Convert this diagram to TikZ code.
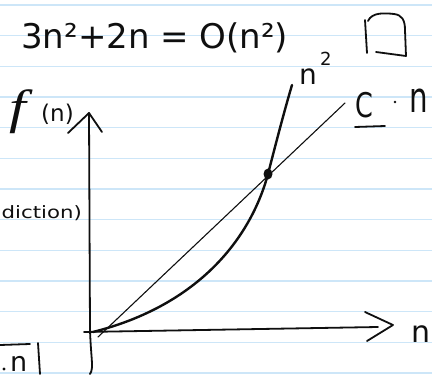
\documentclass[tikz,border=0pt]{standalone}
\usepackage{graphicx}
\usepackage{fontspec}
\setmainfont{DejaVu Sans}
\newfontfamily\serifhand{Liberation Serif}
\definecolor{rulecol}{RGB}{205,230,248}
\definecolor{inkcol}{RGB}{15,15,15}
\begin{document}
\begin{tikzpicture}[x=1pt,y=-1pt,
  rule/.style={draw=rulecol, line width=1.3pt},
  ink/.style={draw=inkcol, line cap=round, line join=round, line width=1.8pt},
  thinink/.style={draw=inkcol, line cap=round, line width=1.1pt},
  thickink/.style={draw=inkcol, line cap=round, line width=2.4pt},
  txt/.style={inner sep=0pt, anchor=base west, text=inkcol}]
\useasboundingbox (0,0) rectangle (432,375);
\clip (0,0) rectangle (432,375);
\fill[white] (0,0) rectangle (432,375);
\foreach \k in {0,...,12} \draw[rule] (0,{5+30.67*\k}) -- (432,{5+30.67*\k});
% title
\node[txt, font=\fontsize{34}{38}\selectfont] (eq) at (21,48) {3n²+2n = O(n²)};
% box
\draw[ink] (365,20) -- (367,53);
\draw[ink] (368,21) .. controls (372,12) and (385,13) .. (394,14) .. controls (402,15) and (405,20) .. (405,30) -- (406,56) -- (376,52);
% labels
\node[txt, font=\serifhand\itshape\fontsize{48}{52}\selectfont] (ff) at (9,123) {\scalebox{1.25}[1]{f}};
\node[txt, font=\fontsize{23}{26}\selectfont] (fn) at (41,121) {(n)};
\node[txt, font=\fontsize{17}{20}\selectfont, anchor=base east] (contra) at (82,218) {\scalebox{1.25}[1]{diction)}};
\node[txt, font=\fontsize{28}{32}\selectfont] (nsq) at (299,84) {n};
\node[txt, font=\fontsize{18}{20}\selectfont] (two) at (320,65) {2};
\node[txt, font=\fontsize{34}{38}\selectfont] (cc) at (355,117) {\scalebox{0.75}[1]{C}};
\node[txt, font=\fontsize{42}{46}\selectfont] (cn) at (409,112) {\scalebox{0.7}[1]{n}};
\node[txt, font=\fontsize{30}{34}\selectfont] (xn) at (411,342) {n};
\node[txt, font=\fontsize{27}{30}\selectfont] (bn) at (10,371) {n};
\fill[inkcol] (395,102) circle (1.3);
\fill[inkcol] (4,369) circle (1.6);
\draw[ink] (355,127) -- (385,126);
\draw[ink] (0,345) -- (30,344);
\draw[ink] (38,343) -- (40,374);
% axes
\coordinate (ytop) at (89,113);
\coordinate (ybot) at (90,374);
\coordinate (xstart) at (84,332);
\coordinate (xend) at (378,327);
\draw[ink] (ytop) -- (90,330) .. controls (91,360) and (94,368) .. (ybot);
\draw[ink] (68,133) -- (ytop) -- (102,132);
\draw[ink] (xstart) -- (xend);
\draw[ink] (365,312) -- (393,325) -- (367,341);
% lines
\coordinate (o1) at (98,337);
\coordinate (l1) at (345,103);
\draw[thinink] (o1) -- (l1);
\coordinate (o2) at (93,332);
\coordinate (meet) at (268,174);
\coordinate (ctop) at (292,85);
\draw[thickink] (o2) .. controls (200,305) and (251,237) .. (meet) .. controls (276,143) and (284,112) .. (ctop);
\fill[inkcol] (meet) ellipse (4.5 and 5.5);
\end{tikzpicture}
\end{document}
